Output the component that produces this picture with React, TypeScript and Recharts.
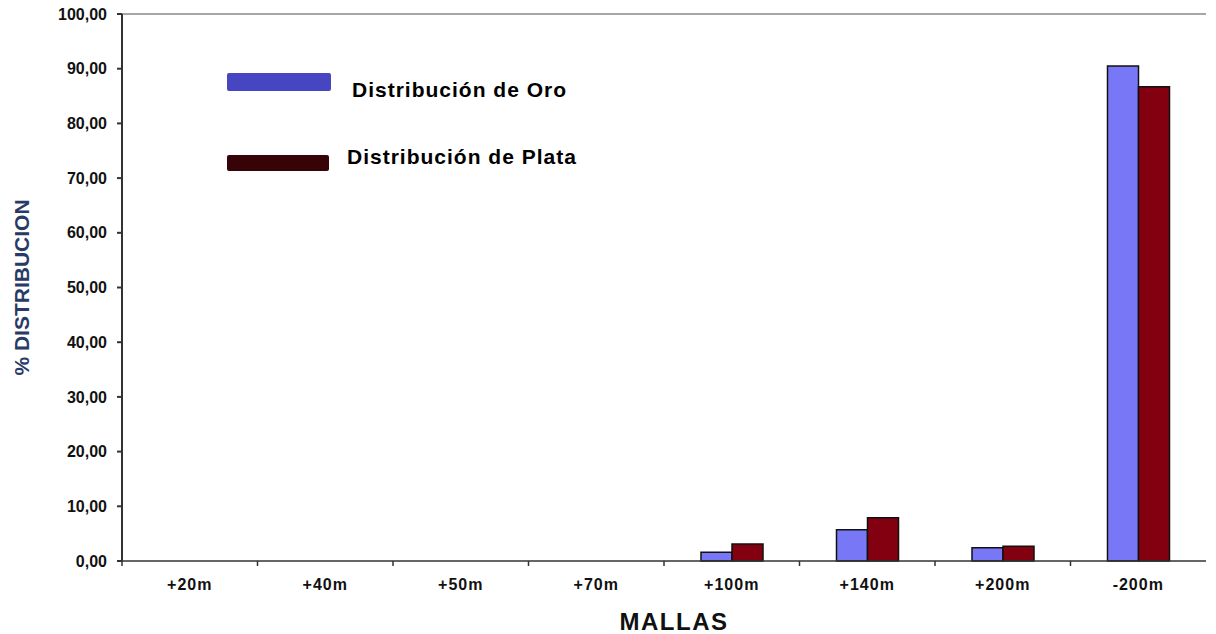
import React from 'react'
import {
  BarChart,
  Bar,
  XAxis,
  YAxis,
  ReferenceLine,
  Legend
} from 'recharts'

const categories = ['+20m', '+40m', '+50m', '+70m', '+100m', '+140m', '+200m', '-200m']
const oroValues = [0, 0, 0, 0, 1.6, 5.7, 2.4, 90.5]
const plataValues = [0, 0, 0, 0, 3.1, 7.9, 2.7, 86.7]
const yTicks = [0, 10, 20, 30, 40, 50, 60, 70, 80, 90, 100]

const seriesNames = ['Distribución de Oro', 'Distribución de Plata']

const data = categories.map((malla, i) => ({
  malla,
  oro: oroValues[i],
  plata: plataValues[i]
}))

const FONT = '"Liberation Sans", Arial, Helvetica, sans-serif'
const WIDTH = 1216
const HEIGHT = 634
const margin = { top: 14, right: 10, bottom: 0, left: 0 }
const Y_AXIS_WIDTH = 122
const halfBand = (WIDTH - margin.left - margin.right - Y_AXIS_WIDTH) / categories.length / 2

const fmt = (v: number) => v.toFixed(2).replace('.', ',')

// label plus a small tick mark on the left edge of each category (Excel style)
const XTick = ({ x, y, payload }: any) => (
  <g>
    <line x1={x - halfBand} x2={x - halfBand} y1={y - 8} y2={y - 3} stroke="#333" strokeWidth={1.5} />
    <text
      x={x}
      y={y + 21}
      textAnchor="middle"
      fontFamily={FONT}
      fontWeight="bold"
      fontSize={16}
      letterSpacing={1}
      fill="#111"
    >
      {payload.value}
    </text>
  </g>
)

const renderLegend = () => {
  const swatches = [
    { color: '#4646c2', top: 70, h: 18, w: 104, gap: 21, shift: 8 },
    { color: '#360307', top: 151, h: 16, w: 102, gap: 18, shift: -6 }
  ]
  return (
    <div style={{ position: 'relative' }}>
      {swatches.map((s, i) => (
        <div
          key={i}
          style={{
            position: 'absolute',
            top: s.top,
            left: 227,
            display: 'flex',
            alignItems: 'center',
            whiteSpace: 'nowrap'
          }}
        >
          <div style={{ width: s.w, height: s.h, background: s.color, borderRadius: 2 }} />
          <span
            style={{
              position: 'relative',
              top: s.shift,
              marginLeft: s.gap,
              fontFamily: FONT,
              fontWeight: 'bold',
              fontSize: 21,
              letterSpacing: 1,
              color: '#000'
            }}
          >
            {seriesNames[i]}
          </span>
        </div>
      ))}
    </div>
  )
}

export default function App() {
  return (
    <div style={{ position: 'absolute', left: 0, top: 0, background: '#fff' }}>
      <BarChart width={WIDTH} height={HEIGHT} data={data} margin={margin} barGap={0}>
        <ReferenceLine y={100} stroke="#888" strokeWidth={1.5} />
        <XAxis
          dataKey="malla"
          height={73}
          stroke="#333"
          strokeWidth={1.5}
          tickLine={false}
          interval={0}
          tick={<XTick />}
          label={{
            value: 'MALLAS',
            position: 'insideBottom',
            offset: 4,
            dx: 10,
            fontFamily: FONT,
            fontWeight: 'bold',
            fontSize: 24,
            letterSpacing: 1.5,
            fill: '#111'
          }}
        />
        <YAxis
          width={Y_AXIS_WIDTH}
          domain={[0, 100]}
          ticks={yTicks}
          interval={0}
          tickFormatter={fmt}
          stroke="#333"
          strokeWidth={2}
          tickSize={5}
          tickMargin={10}
          tick={{ fontFamily: FONT, fontWeight: 'bold', fontSize: 16, fill: '#111' }}
          label={{
            value: '% DISTRIBUCION',
            angle: -90,
            position: 'insideLeft',
            offset: 22,
            style: { textAnchor: 'middle' },
            fontFamily: FONT,
            fontWeight: 'bold',
            fontSize: 21,
            fill: '#2a3a66'
          }}
        />
        <Legend content={renderLegend} wrapperStyle={{ position: 'absolute', left: 0, top: 0, width: 0, height: 0 }} />
        <Bar
          dataKey="oro"
          name={seriesNames[0]}
          fill="#7878f6"
          stroke="#111"
          strokeWidth={1.5}
          barSize={31}
          isAnimationActive={false}
        />
        <Bar
          dataKey="plata"
          name={seriesNames[1]}
          fill="#82000f"
          stroke="#111"
          strokeWidth={1.5}
          barSize={31}
          isAnimationActive={false}
        />
      </BarChart>
    </div>
  )
}
